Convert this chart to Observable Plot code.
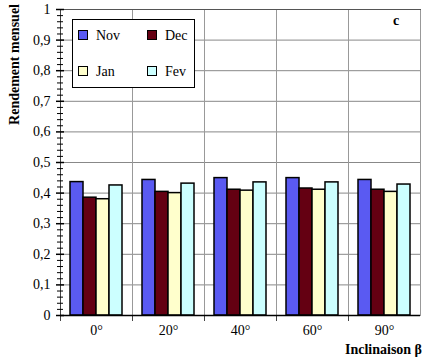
<!DOCTYPE html>
<html>
<head>
<meta charset="utf-8">
<script src="https://cdn.jsdelivr.net/npm/d3@7"></script>
<script src="https://cdn.jsdelivr.net/npm/@observablehq/plot@0.6"></script>
<style>
  html, body { margin: 0; padding: 0; background: #fff; }
  #wrap { position: relative; width: 423px; height: 358px; font-family: "Liberation Serif", "DejaVu Serif", serif; }
  #wrap svg text { font-family: "Liberation Serif", "DejaVu Serif", serif; }
  #legend { position: absolute; left: 72px; top: 19px; width: 121px; height: 67px; background: #fff; border: 1.5px solid #000; }
  .item { position: absolute; font-size: 14px; color: #000; line-height: 14px; }
  .sw { display: inline-block; width: 8px; height: 8px; border: 1px solid #000; margin-right: 8px; vertical-align: 0px; }
</style>
</head>
<body>
<div id="wrap"><div id="chart"></div><div id="legend"></div></div>
<script>
const angles = ["0°", "20°", "40°", "60°", "90°"];
const months = ["Nov", "Dec", "Jan", "Fev"];
const colors = ["#5a5af2", "#640012", "#ffffcc", "#ccffff"];
const nov = [0.436, 0.443, 0.449, 0.449, 0.443];
const dec = [0.385, 0.404, 0.411, 0.415, 0.411];
const jan = [0.380, 0.400, 0.408, 0.411, 0.404];
const fev = [0.425, 0.431, 0.435, 0.435, 0.428];
const yTicks = [0, 0.1, 0.2, 0.3, 0.4, 0.5, 0.6, 0.7, 0.8, 0.9, 1];
const yMinor = [0.02,0.04,0.06,0.08,0.12,0.14,0.16,0.18,0.22,0.24,0.26,0.28,0.32,0.34,0.36,0.38,0.42,0.44,0.46,0.48,0.52,0.54,0.56,0.58,0.62,0.64,0.66,0.68,0.72,0.74,0.76,0.78,0.82,0.84,0.86,0.88,0.92,0.94,0.96,0.98];

const series = [nov, dec, jan, fev];
const data = [];
angles.forEach((a, i) => months.forEach((m, j) => data.push({angle: a, month: m, value: series[j][i]})));

const serif = "'Liberation Serif', 'DejaVu Serif', serif";

const plot = Plot.plot({
  width: 423,
  height: 358,
  marginLeft: 58,
  marginRight: 2,
  marginTop: 9,
  marginBottom: 43,
  style: {fontFamily: serif, fontSize: "14px", color: "#000", background: "#fff"},
  fx: {domain: angles, padding: 0, label: null},
  x: {domain: months, paddingInner: 0, paddingOuter: 0.7, axis: null},
  y: {domain: [0, 1], label: null},
  color: {domain: months, range: colors},
  marks: [
    Plot.gridY(yTicks, {stroke: "#888", strokeOpacity: 1, strokeWidth: 1}),
    Plot.frame({anchor: "left", stroke: "#444", insetBottom: -5}),
    Plot.frame({anchor: "right", stroke: "#999"}),
    Plot.frame({anchor: "top", stroke: "#555"}),
    Plot.barY(data, {fx: "angle", x: "month", y: "value", fill: "month", stroke: "#000", strokeWidth: 1.5}),
    Plot.ruleY([0], {stroke: "#000", strokeWidth: 1.5}),
    Plot.axisY(yTicks, {tickSize: 4, tickFormat: d => String(d).replace(".", ","), fontSize: 14, tickPadding: 6, strokeWidth: 1.5}),
    Plot.axisY(yTicks, {tickSize: 4, dx: 4, text: null, strokeWidth: 1.5}),
    Plot.axisY(yMinor, {tickSize: 3, text: null, strokeWidth: 1}),
    Plot.axisY(yMinor, {tickSize: 3, dx: 3, text: null, strokeWidth: 1}),
    Plot.axisFx({anchor: "bottom", tickSize: 0, tickPadding: 10, fontSize: 14, label: null})
  ]
});
document.getElementById("chart").appendChild(plot);

const svg = d3.select(plot);
svg.append("text")
  .attr("transform", "translate(19,4) rotate(-90)")
  .attr("text-anchor", "end")
  .attr("font-weight", "bold")
  .attr("font-size", 14)
  .text("Rendement mensuel");
svg.append("text")
  .attr("x", 422).attr("y", 354)
  .attr("text-anchor", "end")
  .attr("font-weight", "bold")
  .attr("font-size", 14)
  .text("Inclinaison β");
svg.append("text")
  .attr("x", 396).attr("y", 25)
  .attr("font-weight", "bold")
  .attr("font-size", 14)
  .text("c");

const legend = document.getElementById("legend");
const pos = [[5, 11], [74, 11], [5, 47], [74, 47]];
months.forEach((m, i) => {
  const d = document.createElement("div");
  d.className = "item";
  d.style.left = pos[i][0] + "px";
  d.style.top = (pos[i][1] - 2) + "px";
  d.innerHTML = `<span class="sw" style="background:${colors[i]}"></span>${m}`;
  legend.appendChild(d);
});
</script>
</body>
</html>
